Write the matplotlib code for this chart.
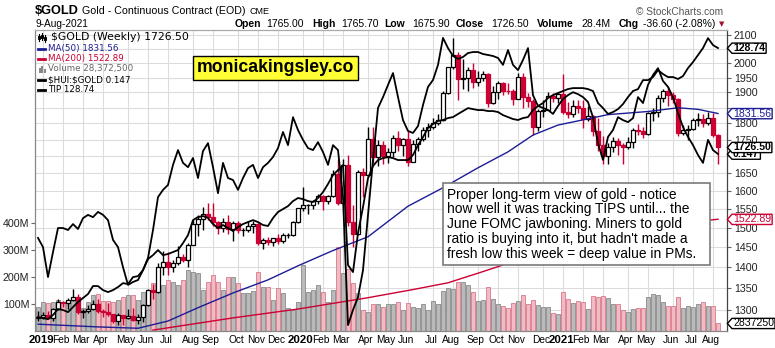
import numpy as np
import pandas as pd
import matplotlib
matplotlib.use('Agg')
import matplotlib.pyplot as plt
from matplotlib.path import Path
from matplotlib.lines import Line2D
from matplotlib.patches import Rectangle
from matplotlib.ticker import FixedLocator, NullLocator, NullFormatter, FuncFormatter

plt.rcParams['font.family'] = ['Liberation Sans', 'DejaVu Sans']
plt.rcParams['text.parse_math'] = False

# weekly $GOLD bars, week of 31-Dec-2018 .. week of 9-Aug-2021
opens = [1282, 1285, 1289, 1282, 1303, 1318, 1316, 1322, 1329, 1296, 1298, 1302, 1313, 1298, 1295,
         1291, 1276, 1288, 1281, 1287, 1277, 1284, 1311, 1346, 1342, 1400, 1413, 1400, 1412, 1426,
         1419, 1457, 1509, 1523, 1537, 1529, 1515, 1499, 1515, 1497, 1512, 1494, 1494, 1505, 1511,
         1462, 1468, 1463, 1473, 1465, 1481, 1481,
         1515, 1552, 1560, 1560, 1571, 1587, 1573, 1586, 1648, 1566, 1674, 1516, 1484, 1654, 1646,
         1752, 1698, 1735, 1700, 1713, 1756, 1735, 1751, 1683, 1737, 1753, 1780, 1790, 1801, 1810,
         1897, 1985, 2028, 1944, 1947, 1975, 1934, 1947, 1962, 1866, 1900, 1931, 1906, 1905, 1879,
         1951, 1886, 1872, 1788, 1840, 1843, 1888,
         1883, 1895, 1835, 1830, 1856, 1850, 1814, 1824, 1778, 1734, 1700, 1727, 1745, 1733, 1729,
         1744, 1780, 1777, 1768, 1832, 1838, 1881, 1906, 1891, 1879, 1769, 1781, 1784, 1810, 1815,
         1802, 1817, 1765]
highs = [1298, 1296, 1297, 1305, 1326, 1321, 1327, 1349, 1336, 1302, 1312, 1323, 1326, 1301, 1315,
         1291, 1293, 1289, 1302, 1305, 1290, 1313, 1348, 1360, 1411, 1442, 1439, 1418, 1453, 1434,
         1461, 1520, 1534, 1555, 1566, 1566, 1517, 1526, 1535, 1519, 1518, 1500, 1518, 1517, 1514,
         1475, 1477, 1474, 1484, 1486, 1486, 1519,
         1553, 1611, 1565, 1575, 1591, 1590, 1588, 1659, 1691, 1692, 1704, 1560, 1660, 1664, 1788,
         1788, 1748, 1746, 1725, 1765, 1775, 1755, 1775, 1750, 1758, 1788, 1800, 1818, 1829, 1904,
         1985, 2089, 2040, 2015, 1986, 2001, 1974, 1974, 1966, 1920, 1937, 1936, 1933, 1913, 1966,
         1965, 1899, 1879, 1845, 1876, 1903, 1899,
         1902, 1962, 1868, 1875, 1876, 1875, 1855, 1828, 1817, 1762, 1741, 1759, 1756, 1740, 1759,
         1785, 1798, 1789, 1836, 1849, 1891, 1913, 1920, 1903, 1882, 1796, 1796, 1818, 1834, 1831,
         1836, 1832, 1765.7]
lows = [1276, 1280, 1280, 1276, 1300, 1307, 1302, 1321, 1291, 1281, 1292, 1299, 1292, 1285, 1286,
        1270, 1266, 1266, 1279, 1274, 1268, 1273, 1310, 1325, 1338, 1381, 1381, 1388, 1405, 1413,
        1400, 1455, 1480, 1495, 1522, 1506, 1485, 1490, 1485, 1465, 1486, 1480, 1489, 1488, 1456,
        1445, 1456, 1453, 1459, 1462, 1474, 1480,
        1513, 1545, 1536, 1550, 1565, 1547, 1564, 1584, 1562, 1565, 1504, 1451, 1482, 1584, 1640,
        1680, 1672, 1676, 1680, 1699, 1717, 1701, 1671, 1682, 1716, 1746, 1758, 1784, 1796, 1808,
        1895, 1980, 1874, 1911, 1905, 1916, 1920, 1937, 1851, 1862, 1877, 1893, 1895, 1860, 1877,
        1848, 1853, 1764, 1775, 1822, 1842, 1868,
        1865, 1829, 1816, 1822, 1833, 1786, 1809, 1761, 1717, 1677, 1676, 1713, 1705, 1678, 1722,
        1726, 1763, 1756, 1765, 1808, 1822, 1870, 1856, 1866, 1761, 1765, 1750, 1780, 1793, 1789,
        1795, 1758, 1675.9]
closes = [1285, 1289, 1282, 1303, 1318, 1316, 1322, 1329, 1296, 1298, 1302, 1313, 1298, 1295, 1291,
          1276, 1288, 1281, 1287, 1277, 1284, 1311, 1346, 1342, 1400, 1413, 1400, 1412, 1426, 1419,
          1457, 1509, 1523, 1537, 1529, 1515, 1499, 1515, 1497, 1512, 1494, 1494, 1505, 1511, 1462,
          1468, 1463, 1473, 1465, 1481, 1481, 1515,
          1552, 1560, 1560, 1571, 1587, 1573, 1586, 1648, 1566, 1674, 1516, 1484, 1654, 1646, 1752,
          1698, 1735, 1700, 1713, 1756, 1735, 1751, 1683, 1737, 1753, 1780, 1790, 1801, 1810, 1897,
          1985, 2028, 1944, 1947, 1975, 1934, 1947, 1962, 1866, 1900, 1931, 1906, 1905, 1879, 1951,
          1886, 1872, 1788, 1840, 1843, 1888, 1883,
          1895, 1835, 1830, 1856, 1850, 1814, 1824, 1778, 1734, 1700, 1727, 1745, 1733, 1729, 1744,
          1780, 1777, 1768, 1832, 1838, 1881, 1906, 1891, 1879, 1769, 1781, 1784, 1810, 1815, 1802,
          1817, 1763, 1726.5]

# weekly volume, millions of contracts
volume_m = [88, 109, 103, 109, 115, 103, 109, 121, 109, 85, 109, 133, 137, 112, 112, 109, 115, 127, 133, 133,
            115, 146, 146, 176, 201, 170, 189, 182, 170, 189, 226, 220, 214, 152, 182, 207, 182, 152, 201, 201,
            176, 140, 140, 150, 220, 164, 164, 115, 160, 140, 85, 78, 109, 244, 146, 152, 170, 146, 109, 152,
            312, 214, 228, 176, 140, 78, 72, 100, 100, 88, 100, 100, 107, 78, 103, 88, 85, 100, 78, 111,
            100, 148, 158, 155, 183, 181, 170, 146, 111, 114, 162, 117, 100, 93, 85, 103, 112, 133, 100, 114,
            96, 90, 88, 68, 63, 146, 117, 105, 111, 108, 81, 130, 125, 130, 121, 100, 100, 78, 69, 80,
            84, 84, 127, 137, 133, 109, 94, 93, 125, 84, 94, 88, 99, 109, 94, 94, 28.3725]

# overlays
hui_gold = [0.1215, 0.1187, 0.1096, 0.1172, 0.1245, 0.1245, 0.1239, 0.1257, 0.1242, 0.1275,
            0.1285, 0.1278, 0.1294, 0.1285, 0.1269, 0.1209, 0.1187, 0.1126, 0.1072, 0.1081,
            0.1087, 0.1117, 0.1154, 0.1239, 0.1339, 0.1361, 0.1376, 0.1437, 0.1482, 0.1443,
            0.1430, 0.1458, 0.1397, 0.1479, 0.1503, 0.1430, 0.1351, 0.1443, 0.1397, 0.1391,
            0.1361, 0.1397, 0.1427, 0.1437, 0.1397, 0.1430, 0.1443, 0.1461, 0.1488, 0.1537,
            0.1497, 0.1582, 0.1543, 0.1513, 0.1488, 0.1482, 0.1506, 0.1476, 0.1437, 0.1497,
            0.1482, 0.1339, 0.0950, 0.0996, 0.1035, 0.1117, 0.1285, 0.1452, 0.1610, 0.1643,
            0.1680, 0.1716, 0.1643, 0.1573, 0.1540, 0.1534, 0.1555, 0.1619, 0.1674, 0.1695,
            0.1741, 0.1823, 0.1792, 0.1768, 0.1759, 0.1765, 0.1777, 0.1780, 0.1780, 0.1774,
            0.1771, 0.1768, 0.1762, 0.1741, 0.1786, 0.1741, 0.1725, 0.1756, 0.1792, 0.1649,
            0.1616, 0.1610, 0.1604, 0.1592, 0.1616, 0.1637, 0.1649, 0.1658, 0.1652, 0.1643,
            0.1628, 0.1582, 0.1503, 0.1452, 0.1522, 0.1543, 0.1582, 0.1573, 0.1567, 0.1579,
            0.1643, 0.1625, 0.1680, 0.1710, 0.1731, 0.1692, 0.1674, 0.1643, 0.1595, 0.1552,
            0.1522, 0.1497, 0.1467, 0.1443, 0.1513, 0.1482, 0.147]
tip = [109.53, 109.45, 109.38, 109.67, 110.10, 110.03, 109.88, 110.24, 110.60, 110.88,
       111.17, 111.74, 111.74, 111.45, 111.31, 111.45, 111.67, 111.95, 111.88, 112.38,
       112.45, 112.88, 113.67, 113.95, 114.31, 113.95, 114.03, 114.17, 114.31, 114.81,
       115.38, 116.45, 116.67, 116.74, 116.60, 116.17, 115.88, 116.10, 115.88, 115.67,
       115.95, 116.17, 116.31, 116.45, 116.31, 116.10, 116.03, 116.60, 117.03, 117.24,
       117.45, 117.81, 118.03, 117.95, 117.81, 117.74, 118.03, 118.45, 119.03, 119.67,
       120.03, 120.38, 113.24, 112.74, 115.53, 117.38, 119.45, 120.31, 120.74, 120.88,
       120.95, 120.88, 120.74, 120.74, 120.74, 121.10, 121.81, 122.38, 123.03, 123.31,
       123.53, 123.60, 123.74, 123.81, 124.03, 124.24, 124.45, 124.38, 124.31, 124.31,
       124.24, 124.24, 124.17, 123.95, 123.81, 123.67, 123.60, 123.74, 123.81, 124.31,
       124.60, 124.81, 125.17, 125.38, 125.53, 125.67, 125.81, 125.88, 125.88, 125.88,
       125.81, 125.67, 124.81, 124.45, 124.03, 124.17, 124.38, 124.74, 125.24, 125.67,
       125.81, 126.45, 126.45, 126.67, 127.17, 126.88, 126.67, 126.67, 126.53, 126.74,
       127.31, 127.74, 128.24, 128.74, 129.45, 128.95, 128.74]

ma50_week = [0, 12, 20, 26, 32, 39, 46, 52, 59, 66, 74, 81, 88, 94, 99, 104, 111, 114, 122, 128, 132, 136]
ma50 = [1268, 1262, 1259, 1275, 1305, 1339, 1370, 1404, 1442, 1477, 1558, 1609, 1666, 1713, 1764,
        1795, 1818, 1828, 1838, 1850, 1845, 1831.56]
ma200_week = [23, 39, 52, 66, 75, 82, 88, 93, 102, 112, 122, 130, 136]
ma200 = [1255, 1282, 1302, 1328, 1347, 1363, 1386, 1406, 1440, 1475, 1500, 1515, 1522.89]

W, H = 775, 348
RED = '#cc0033'
NAVY = '#1c1c96'
GRID = '#dcdcdc'


def fx(x):
    return x / W


def fy(y):
    return 1 - y / H


weeks = pd.date_range('2018-12-31', periods=len(closes), freq='7D')
idx = np.arange(len(closes))
o, h, l, c = map(np.asarray, (opens, highs, lows, closes))
prev_close = np.r_[o[0], c[:-1]]
down = c < prev_close

fig = plt.figure(figsize=(W / 100, H / 100), dpi=100)
L, T, R, B = 35, 30, 727, 331
ax = fig.add_axes([fx(L), fy(B), (R - L) / W, (B - T) / H])
axv = ax.twinx()
axc = ax.twinx()
axt = ax.twinx()
axh = ax.twinx()

# base axes: price scale and grid (labels under the value tags are left blank)
hidden = {2050, 1850, 1700}
ax.set_xlim(-0.6, 137.8)
ax.set_yscale('log')
ax.set_ylim(1253, 2119)
ax.yaxis.set_major_locator(FixedLocator(np.arange(1300, 2101, 50)))
ax.yaxis.set_minor_locator(NullLocator())
ax.yaxis.set_minor_formatter(NullFormatter())
ax.yaxis.set_major_formatter(FuncFormatter(lambda v, p: '' if round(v) in hidden else f'{v:.0f}'))
ax.yaxis.tick_right()
ax.tick_params(axis='y', labelsize=7.7, length=3, pad=2, color='#666666', labelcolor='#222222')

month_start = [i for i in range(1, len(weeks)) if weeks[i].month != weeks[i - 1].month]
ax.set_xticks(month_start)
ax.tick_params(axis='x', length=0, labelbottom=False)
ax.grid(True, color=GRID, lw=0.8)
ax.set_axisbelow(True)
for i in month_start:
    d = weeks[i]
    if d.month == 1:
        ax.text(i - 0.4, -9 / 301, str(d.year), transform=ax.get_xaxis_transform(),
                ha='center', va='center', fontsize=8.2, fontweight='bold', clip_on=False)
    else:
        ax.text(i - 0.4, -9 / 301, d.strftime('%b'), transform=ax.get_xaxis_transform(),
                ha='center', va='center', fontsize=7.3, clip_on=False)

# volume
axv.set_ylim(0, 1115)
axv.yaxis.tick_left()
axv.set_yticks([100, 200, 300, 400])
axv.set_yticklabels(['100M', '200M', '300M', '400M'])
axv.tick_params(axis='y', labelsize=7.7, length=3, pad=1, color='#666666', labelcolor='#222222')
axv.bar(idx, volume_m, width=0.96,
        color=np.where(down, '#f0bcc3', '#bababa'),
        edgecolor=np.where(down, '#d9778a', '#8a8a8a'), linewidth=0.6)

# candles and moving averages
axc.set_yscale('log')
axc.set_ylim(1253, 2119)
axc.yaxis.set_visible(False)
cc = np.where(down, RED, 'black')
filled = c < o
axc.vlines(idx, l, h, colors=cc, lw=1.0, zorder=2)
axc.bar(idx, np.abs(c - o), bottom=np.minimum(o, c), width=0.64,
        color=np.where(filled, cc, 'white'), edgecolor=cc, linewidth=0.9, zorder=3)
axc.plot(ma50_week, ma50, color=NAVY, lw=1.0, zorder=4)
axc.plot(ma200_week, ma200, color=RED, lw=1.0, zorder=4)

# TIP and miners/gold ratio, each on its own scale
axt.set_ylim(108.53, 130.03)
axt.yaxis.set_visible(False)
axt.plot(idx, tip, color='black', lw=1.3)
axh.set_ylim(0.0932, 0.1847)
axh.yaxis.set_visible(False)
axh.plot(idx, hui_gold, color='black', lw=1.3)

for a in (ax, axv, axc, axt):
    for s in a.spines.values():
        s.set_visible(False)
for side, col in (('left', '#888888'), ('top', '#aaaaaa'), ('bottom', '#888888'), ('right', '#444444')):
    axh.spines[side].set_color(col)
    axh.spines[side].set_linewidth(0.9)


def tag_shape(x0, y0, width, height, mutation_size):
    pad = 0.12 * mutation_size
    x0, y0 = x0 - pad * 0.8, y0 - pad * 0.2
    width, height = width + pad * 1.6, height + pad * 0.2
    tip_w = height * 0.45
    verts = [(x0, y0), (x0 + width, y0), (x0 + width, y0 + height), (x0, y0 + height),
             (x0 - tip_w, y0 + height / 2), (x0, y0)]
    return Path(verts, closed=True)


def tag(src, value, label, edge, bold=False, z=10):
    axh.text(1 + 6 / 692, value, label, transform=src.get_yaxis_transform(), ha='left', va='center',
             fontsize=7.6, fontweight='bold' if bold else 'normal', color=edge,
             clip_on=False, zorder=z,
             bbox=dict(boxstyle=tag_shape, fc='white', ec=edge, lw=1.0))


tag(axt, 128.74, '128.74', 'black', bold=True)
tag(axc, 1831.56, '1831.56', NAVY)
tag(axh, 0.147, '0.147', 'black', bold=True, z=10)
tag(axc, 1726.50, '1726.50', 'black', bold=True, z=11)
tag(axc, 1522.89, '1522.89', RED)
tag(axv, 28.3725, '2837250', 'black')


def ftext(x, y, s, **kw):
    kw.setdefault('va', 'center')
    return fig.text(fx(x), fy(y), s, **kw)


# title rows
ftext(35, 11.5, '$GOLD', fontsize=9.2, fontweight='bold')
ftext(82, 11.5, 'Gold - Continuous Contract (EOD)', fontsize=7.7)
ftext(250, 12, 'CME', fontsize=6.5)
ftext(35, 24, '9-Aug-2021', fontsize=7.3)
ftext(636, 12, '\u00a9 StockCharts.com', fontsize=7.3, color='#555555')
header = [(235, 'Open', True), (266, '1765.00', False), (312, 'High', True), (341, '1765.70', False),
          (384, 'Low', True), (412, '1675.90', False), (456, 'Close', True), (491, '1726.50', False),
          (537, 'Volume', True), (581, '28.4M', False), (619, 'Chg', True), (643, '-36.60 (-2.08%)', False)]
for x, s, b in header:
    ftext(x, 24, s, fontsize=7.5, fontweight='bold' if b else 'normal')
ftext(719, 24, '\u25bc', fontsize=5, color='#a01030', family='DejaVu Sans')

# legend block
lf = 'DejaVu Sans'
ftext(51, 37, '$GOLD (Weekly) 1726.50', fontsize=7.8, family=lf)
ftext(48, 49, 'MA(50) 1831.56', fontsize=6.3, family=lf, color=NAVY)
ftext(48, 58.5, 'MA(200) 1522.89', fontsize=6.3, family=lf, color=RED)
ftext(48, 69, 'Volume 28,372,500', fontsize=6.3, family=lf, color='#666666')
ftext(48, 79.5, '$HUI:$GOLD 0.147', fontsize=6.3, family=lf)
ftext(48, 89.5, 'TIP 128.74', fontsize=6.3, family=lf)
for y, col in ((49, NAVY), (58.5, RED), (79.5, 'black'), (89.5, 'black')):
    fig.add_artist(Line2D([fx(38), fx(45)], [fy(y), fy(y)], color=col, lw=2))
for x, y0, y1 in ((39, 34, 41), (42, 33, 40), (45, 35, 42)):
    fig.add_artist(Line2D([fx(x), fx(x)], [fy(y1), fy(y0)], color='black', lw=0.8))
    fig.add_artist(Rectangle((fx(x - 1), fy(y1 - 2)), 2 / W, 3 / H, transform=fig.transFigure,
                             fc='white', ec='black', lw=0.7))
for x, hh in ((38.5, 5), (41, 7), (43.5, 4)):
    fig.add_artist(Rectangle((fx(x), fy(72.5)), 2 / W, hh / H, transform=fig.transFigure,
                             fc='#888888', ec='none'))

# site badge
ftext(275.5, 68, 'monicakingsley.co', ha='center', fontsize=12.7, fontweight='bold', zorder=6,
      bbox=dict(boxstyle='square,pad=0.22', fc='#ffff33', ec='black', lw=1.0))

# comment box
fig.add_artist(Rectangle((fx(443), fy(265)), (710 - 443) / W, (265 - 183) / H, transform=fig.transFigure,
                         fc='white', ec='#7a7a7a', lw=1.2, zorder=5))
note = ("Proper long-term view of gold - notice\n"
        "how well it was tracking TIPS until... the\n"
        "June FOMC jawboning. Miners to gold\n"
        "ratio is buying into it, but hadn't made a\n"
        "fresh low this week = deep value in PMs.")
ftext(447, 187.5, note, va='top', fontsize=9.9, linespacing=1.07, zorder=6)

fig.savefig('out.png', dpi=100)
